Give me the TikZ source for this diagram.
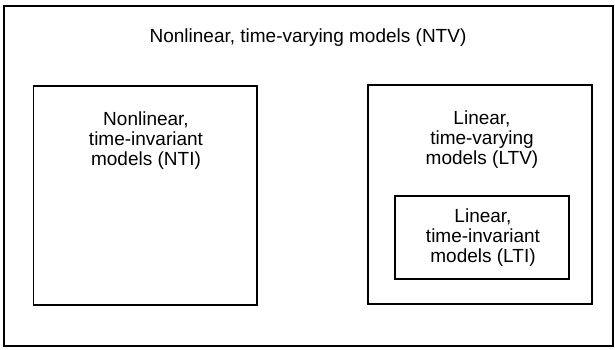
\documentclass[tikz,border=0pt]{standalone}
\usepackage{fontspec}
\setmainfont{Liberation Sans}
\usetikzlibrary{positioning}

\begin{document}
\begin{tikzpicture}[x=1pt, y=-1pt]
  \tikzstyle{frame} = [draw, line width=1.6pt, inner sep=0pt]
  \tikzstyle{boxtext} = [align=center, inner sep=0pt, font=\fontsize{19}{20}\selectfont]

  \useasboundingbox (0,0) rectangle (615,349);

  % outer class and its two subclasses
  \node (ntv) [frame, minimum width=609pt, minimum height=340pt] at (308.5,176) {};
  \node (ntvText) [boxtext] at (308,38) {Nonlinear, time-varying models (NTV)};

  \node (nti) [frame, minimum width=223.5pt, minimum height=219pt] at (145.25,195.5) {};
  \node (ntiText) [boxtext] at (146,141) {Nonlinear,\\time-invariant\\models (NTI)};

  \node (ltv) [frame, minimum width=224pt, minimum height=219pt] at (480,194.5) {};
  \node (ltvText) [boxtext] at (482,140) {Linear,\\time-varying\\models (LTV)};

  % LTI sits inside LTV
  \node (lti) [frame, minimum width=174pt, minimum height=83pt] at (482,237.5) {};
  \node (ltiText) [boxtext] at (483,238) {Linear,\\time-invariant\\models (LTI)};
\end{tikzpicture}
\end{document}
